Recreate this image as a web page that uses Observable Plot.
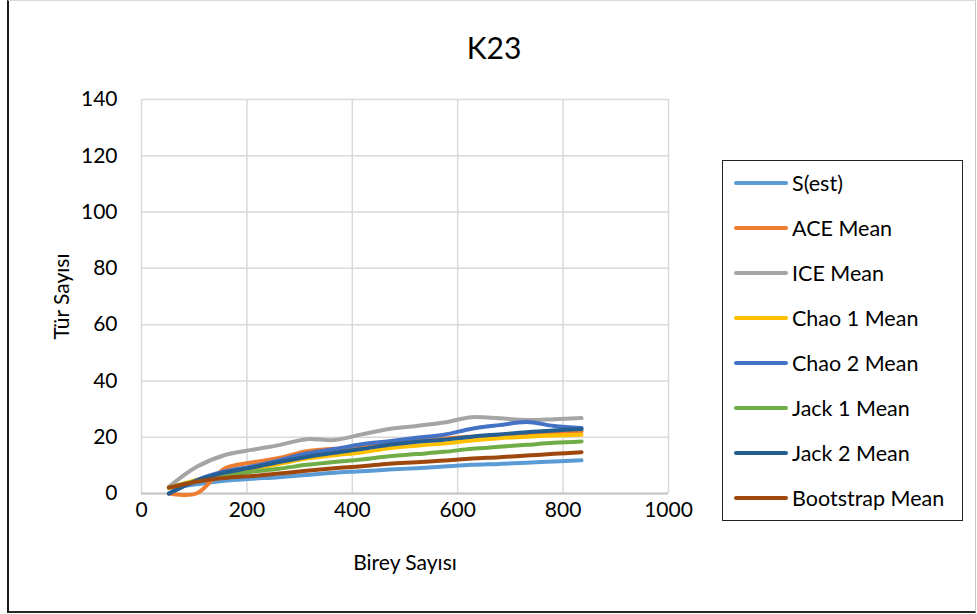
<!DOCTYPE html>
<html>
<head>
<meta charset="utf-8">
<script src="https://cdn.jsdelivr.net/npm/d3@7"></script>
<script src="https://cdn.jsdelivr.net/npm/@observablehq/plot@0.6"></script>
<style>
  body { margin: 0; background: #fff; font-family: Lato, "Open Sans", sans-serif; color: #000; }
  #chart { position: relative; width: 977px; height: 614px; overflow: hidden; background: #fff; }
  #frame { position: absolute; left: 7px; top: 0; width: 969px; height: 613px; box-sizing: border-box;
           border-left: 2px solid #1a1a1a; border-bottom: 2px solid #2a2a2a;
           border-right: 1px solid #c8c8c8; border-top: 1px solid #d9d9d9; }
  #title { position: absolute; left: 0; width: 988px; top: 29px; height: 36px; line-height: 36px;
           text-align: center; font-size: 30px; }
  #plot { position: absolute; left: 0; top: 80px; }
  #legend { position: absolute; left: 722px; top: 160px; width: 241px; height: 361px; box-sizing: border-box;
            border: 1.5px solid #222; }
  .entry { position: absolute; left: 0; height: 30px; }
  .swatch { position: absolute; left: 11px; width: 54px; height: 4px; border-radius: 2px; }
  .label { position: absolute; left: 69px; font-size: 21.5px; white-space: nowrap; line-height: 30px; }
</style>
</head>
<body>
<div id="chart">
  <div id="frame"></div>
  <div id="title"></div>
  <div id="plot"></div>
  <div id="legend"></div>
</div>
<script>
// Chart title and axis titles
const chartTitle = "K23";
const xTitle = "Birey Sayısı";
const yTitle = "Tür Sayısı";

// Number of individuals sampled (x)
const individuals = [52, 104, 157, 209, 261, 313, 366, 418, 470, 522, 574, 627, 679, 731, 783, 835];

// Species richness estimators (y)
const sEst      = [2.0, 3.3, 4.5, 5.2, 5.8, 6.6, 7.4, 7.9, 8.5, 9.0, 9.6, 10.2, 10.5, 10.9, 11.4, 11.8];
const aceMean   = [0, 0, 8.8, 11.0, 12.6, 15.0, 15.9, 16.6, 17.7, 18.6, 19.5, 20.2, 20.8, 21.3, 21.8, 22.1];
const iceMean   = [2.4, 9.4, 13.6, 15.5, 17.2, 19.3, 19.0, 21.0, 22.9, 24.0, 25.2, 27.1, 26.7, 26.1, 26.4, 26.8];
const chao1Mean = [2.0, 4.8, 7.2, 8.8, 10.5, 12.4, 13.6, 14.6, 16.1, 17.0, 17.8, 18.8, 19.6, 20.2, 20.6, 20.9];
const chao2Mean = [0, 4.7, 7.8, 9.6, 11.8, 14.2, 15.8, 17.5, 18.6, 19.8, 20.9, 23.0, 24.3, 25.4, 24.0, 23.3];
const jack1Mean = [2.1, 4.5, 6.3, 7.7, 8.8, 10.2, 11.2, 12.1, 13.2, 14.0, 14.8, 15.9, 16.6, 17.3, 18.0, 18.5];
const jack2Mean = [0, 4.5, 7.4, 9.2, 11.2, 13.0, 14.5, 15.8, 17.3, 18.4, 19.1, 20.2, 21.0, 21.8, 22.4, 22.9];
const bootMean  = [2.1, 4.2, 5.5, 6.2, 7.1, 8.1, 9.0, 9.7, 10.6, 11.1, 11.7, 12.4, 12.9, 13.5, 14.1, 14.7];

// Series names, in drawing and legend order, and their colours
const seriesNames = ["S(est)", "ACE Mean", "ICE Mean", "Chao 1 Mean", "Chao 2 Mean", "Jack 1 Mean", "Jack 2 Mean", "Bootstrap Mean"];
const seriesValues = [sEst, aceMean, iceMean, chao1Mean, chao2Mean, jack1Mean, jack2Mean, bootMean];
const seriesColors = ["#5B9BD5", "#ED7D31", "#A5A5A5", "#FFC000", "#4472C4", "#70AD47", "#255E91", "#9E480E"];

// Axis ticks
const xTicks = [0, 200, 400, 600, 800, 1000];
const yTicks = [0, 20, 40, 60, 80, 100, 120, 140];

// Long-form table for the line mark
const rows = seriesNames.flatMap((name, i) =>
  individuals.map((n, j) => ({series: name, n, v: seriesValues[i][j]}))
);

const plot = Plot.plot({
  width: 977,
  height: 534,
  marginTop: 19,
  marginLeft: 141,
  marginRight: 309,
  marginBottom: 121,
  style: {fontFamily: "Lato, 'Open Sans', sans-serif", fontSize: "21px", color: "#000", background: "transparent"},
  x: {domain: [0, 1000]},
  y: {domain: [0, 140]},
  color: {domain: seriesNames, range: seriesColors},
  marks: [
    Plot.gridX(xTicks, {stroke: "#d9d9d9", strokeOpacity: 1, strokeWidth: 1.5}),
    Plot.gridY(yTicks, {stroke: "#d9d9d9", strokeOpacity: 1, strokeWidth: 1.5}),
    Plot.ruleY([0], {stroke: "#c4c4c4", strokeWidth: 2}),
    Plot.axisX(xTicks, {tickSize: 0, tickPadding: 9, label: null, fill: "#000", tickFormat: d => String(d)}),
    Plot.axisY(yTicks, {tickSize: 0, tickPadding: 24, label: null, fill: "#000", tickFormat: d => String(d)}),
    Plot.line(rows, {x: "n", y: "v", z: "series", stroke: "series", strokeWidth: 4,
                     curve: "catmull-rom", strokeLinejoin: "round", strokeLinecap: "round"}),
    Plot.text([xTitle], {frameAnchor: "bottom", dy: 70, fontSize: 21, fill: "#000",
                         textAnchor: "middle", lineAnchor: "middle"}),
    Plot.text([yTitle], {frameAnchor: "left", dx: -79, rotate: -90, fontSize: 21, fill: "#000",
                         textAnchor: "middle", lineAnchor: "middle"})
  ]
});
document.getElementById("plot").appendChild(plot);

document.getElementById("title").textContent = chartTitle;

// Legend: one line swatch and label per series
const legend = document.getElementById("legend");
seriesNames.forEach((name, i) => {
  const entry = document.createElement("div");
  entry.className = "entry";
  entry.style.top = (22 + 45 * i - 15) + "px";
  const sw = document.createElement("div");
  sw.className = "swatch";
  sw.style.background = seriesColors[i];
  sw.style.top = "13px";
  const lab = document.createElement("div");
  lab.className = "label";
  lab.style.top = "0px";
  lab.textContent = name;
  entry.appendChild(sw);
  entry.appendChild(lab);
  legend.appendChild(entry);
});
</script>
</body>
</html>
